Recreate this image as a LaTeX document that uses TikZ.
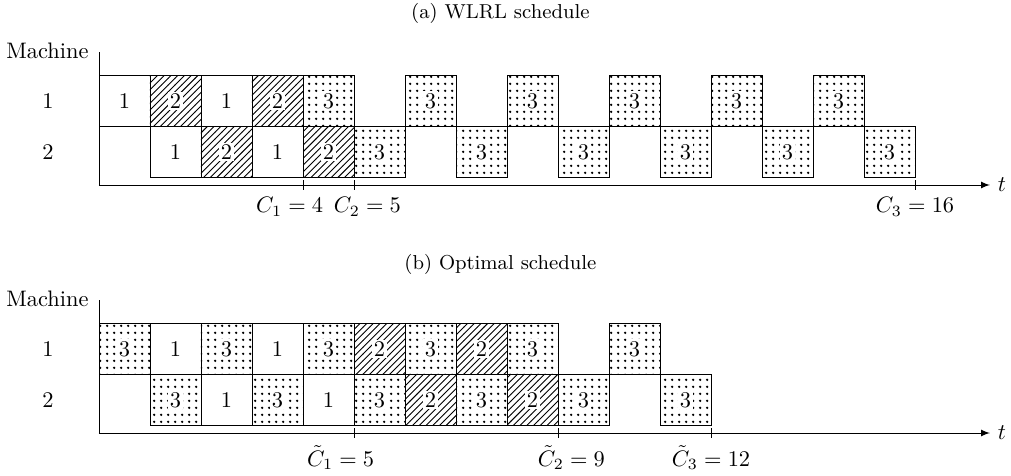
\documentclass[tikz,border=0pt]{standalone}
\usetikzlibrary{patterns}
\usetikzlibrary{arrows}
\pgfdeclarepatternformonly{bolddots}{\pgfqpoint{-1pt}{-1pt}}{\pgfqpoint{2pt}{2pt}}{\pgfqpoint{3pt}{3pt}}%
{\pgfpathcircle{\pgfqpoint{0pt}{0pt}}{.6pt}\pgfusepath{fill}}
\tikzstyle{job} = [rectangle, draw=black, minimum width=0.8cm, minimum height=0.8cm, inner sep=0pt]
\tikzstyle{jobOne} = [job]
\tikzstyle{jobTwo} = [job, pattern=north east lines]
\tikzstyle{jobThree} = [job, pattern=bolddots]
\tikzstyle{axis} = [->,>=latex]
\newcommand{\rowone}{1.65}
\newcommand{\rowtwo}{0.65}
\newcommand{\labshift}{0.21cm}
\newcommand{\jobnum}[1]{{\setlength{\fboxsep}{0.8pt}\colorbox{white}{#1}}}

\begin{document}
\begin{tikzpicture}[x=0.8cm, y=0.8cm]

  %\draw[help lines] (0,0) grid (18,9);
  \useasboundingbox (-1.941,-0.824) rectangle (17.882,8.490);

  % ---------- (a) WLRL schedule ----------
  \begin{scope}[shift={(0,4.863)}]
  \coordinate (wOrigin) at (0,0);
  \coordinate (wTop) at (0,2.6);
  \coordinate (wEnd) at (17.47,0);

  % Title
  \node [font=\small] (wTitle) at (7.87,3.37) {(a) WLRL schedule};

  % Axes
  \draw (wOrigin) -- (wTop);
  \draw [axis] (wOrigin) -- (wEnd) node [right] (wT) {$t$};
  \node (wMachine) at (-1.01,2.63) {Machine};
  \node (wRowOne) at (-1,\rowone) {1};
  \node (wRowTwo) at (-1,\rowtwo) {2};

  % Machine 1
  \node [jobOne] (w1-0) at (0.5,\rowone) {\jobnum{1}};
  \node [jobTwo] (w1-1) at (1.5,\rowone) {\jobnum{2}};
  \node [jobOne] (w1-2) at (2.5,\rowone) {\jobnum{1}};
  \node [jobTwo] (w1-3) at (3.5,\rowone) {\jobnum{2}};
  \node [jobThree] (w1-4) at (4.5,\rowone) {\jobnum{3}};
  \node [jobThree] (w1-6) at (6.5,\rowone) {\jobnum{3}};
  \node [jobThree] (w1-8) at (8.5,\rowone) {\jobnum{3}};
  \node [jobThree] (w1-10) at (10.5,\rowone) {\jobnum{3}};
  \node [jobThree] (w1-12) at (12.5,\rowone) {\jobnum{3}};
  \node [jobThree] (w1-14) at (14.5,\rowone) {\jobnum{3}};

  % Machine 2
  \node [jobOne] (w2-1) at (1.5,\rowtwo) {\jobnum{1}};
  \node [jobTwo] (w2-2) at (2.5,\rowtwo) {\jobnum{2}};
  \node [jobOne] (w2-3) at (3.5,\rowtwo) {\jobnum{1}};
  \node [jobTwo] (w2-4) at (4.5,\rowtwo) {\jobnum{2}};
  \node [jobThree] (w2-5) at (5.5,\rowtwo) {\jobnum{3}};
  \node [jobThree] (w2-7) at (7.5,\rowtwo) {\jobnum{3}};
  \node [jobThree] (w2-9) at (9.5,\rowtwo) {\jobnum{3}};
  \node [jobThree] (w2-11) at (11.5,\rowtwo) {\jobnum{3}};
  \node [jobThree] (w2-13) at (13.5,\rowtwo) {\jobnum{3}};
  \node [jobThree] (w2-15) at (15.5,\rowtwo) {\jobnum{3}};

  % Completion times
  \draw (4,0.09) -- (4,-0.09) node [below, xshift=-\labshift] (wC1) {$C_1 = 4$};
  \draw (5,0.09) -- (5,-0.09) node [below, xshift=\labshift] (wC2) {$C_2 = 5$};
  \draw (16,0.09) -- (16,-0.09) node [below] (wC3) {$C_3 = 16$};
  \end{scope}

  % ---------- (b) Optimal schedule ----------
  \coordinate (oOrigin) at (0,0);
  \coordinate (oTop) at (0,2.6);
  \coordinate (oEnd) at (17.47,0);

  % Title
  \node [font=\small] (oTitle) at (7.87,3.3) {(b) Optimal schedule};

  % Axes
  \draw (oOrigin) -- (oTop);
  \draw [axis] (oOrigin) -- (oEnd) node [right] (oT) {$t$};
  \node (oMachine) at (-1.01,2.63) {Machine};
  \node (oRowOne) at (-1,\rowone) {1};
  \node (oRowTwo) at (-1,\rowtwo) {2};

  % Machine 1
  \node [jobThree] (o1-0) at (0.5,\rowone) {\jobnum{3}};
  \node [jobOne] (o1-1) at (1.5,\rowone) {\jobnum{1}};
  \node [jobThree] (o1-2) at (2.5,\rowone) {\jobnum{3}};
  \node [jobOne] (o1-3) at (3.5,\rowone) {\jobnum{1}};
  \node [jobThree] (o1-4) at (4.5,\rowone) {\jobnum{3}};
  \node [jobTwo] (o1-5) at (5.5,\rowone) {\jobnum{2}};
  \node [jobThree] (o1-6) at (6.5,\rowone) {\jobnum{3}};
  \node [jobTwo] (o1-7) at (7.5,\rowone) {\jobnum{2}};
  \node [jobThree] (o1-8) at (8.5,\rowone) {\jobnum{3}};
  \node [jobThree] (o1-10) at (10.5,\rowone) {\jobnum{3}};

  % Machine 2
  \node [jobThree] (o2-1) at (1.5,\rowtwo) {\jobnum{3}};
  \node [jobOne] (o2-2) at (2.5,\rowtwo) {\jobnum{1}};
  \node [jobThree] (o2-3) at (3.5,\rowtwo) {\jobnum{3}};
  \node [jobOne] (o2-4) at (4.5,\rowtwo) {\jobnum{1}};
  \node [jobThree] (o2-5) at (5.5,\rowtwo) {\jobnum{3}};
  \node [jobTwo] (o2-6) at (6.5,\rowtwo) {\jobnum{2}};
  \node [jobThree] (o2-7) at (7.5,\rowtwo) {\jobnum{3}};
  \node [jobTwo] (o2-8) at (8.5,\rowtwo) {\jobnum{2}};
  \node [jobThree] (o2-9) at (9.5,\rowtwo) {\jobnum{3}};
  \node [jobThree] (o2-11) at (11.5,\rowtwo) {\jobnum{3}};

  % Completion times
  \draw (5,0.09) -- (5,-0.09) node [below, xshift=-\labshift] (oC1) {$\tilde{C}_1 = 5$};
  \draw (9,0.09) -- (9,-0.09) node [below, xshift=\labshift] (oC2) {$\tilde{C}_2 = 9$};
  \draw (12,0.09) -- (12,-0.09) node [below] (oC3) {$\tilde{C}_3 = 12$};

\end{tikzpicture}
\end{document}
